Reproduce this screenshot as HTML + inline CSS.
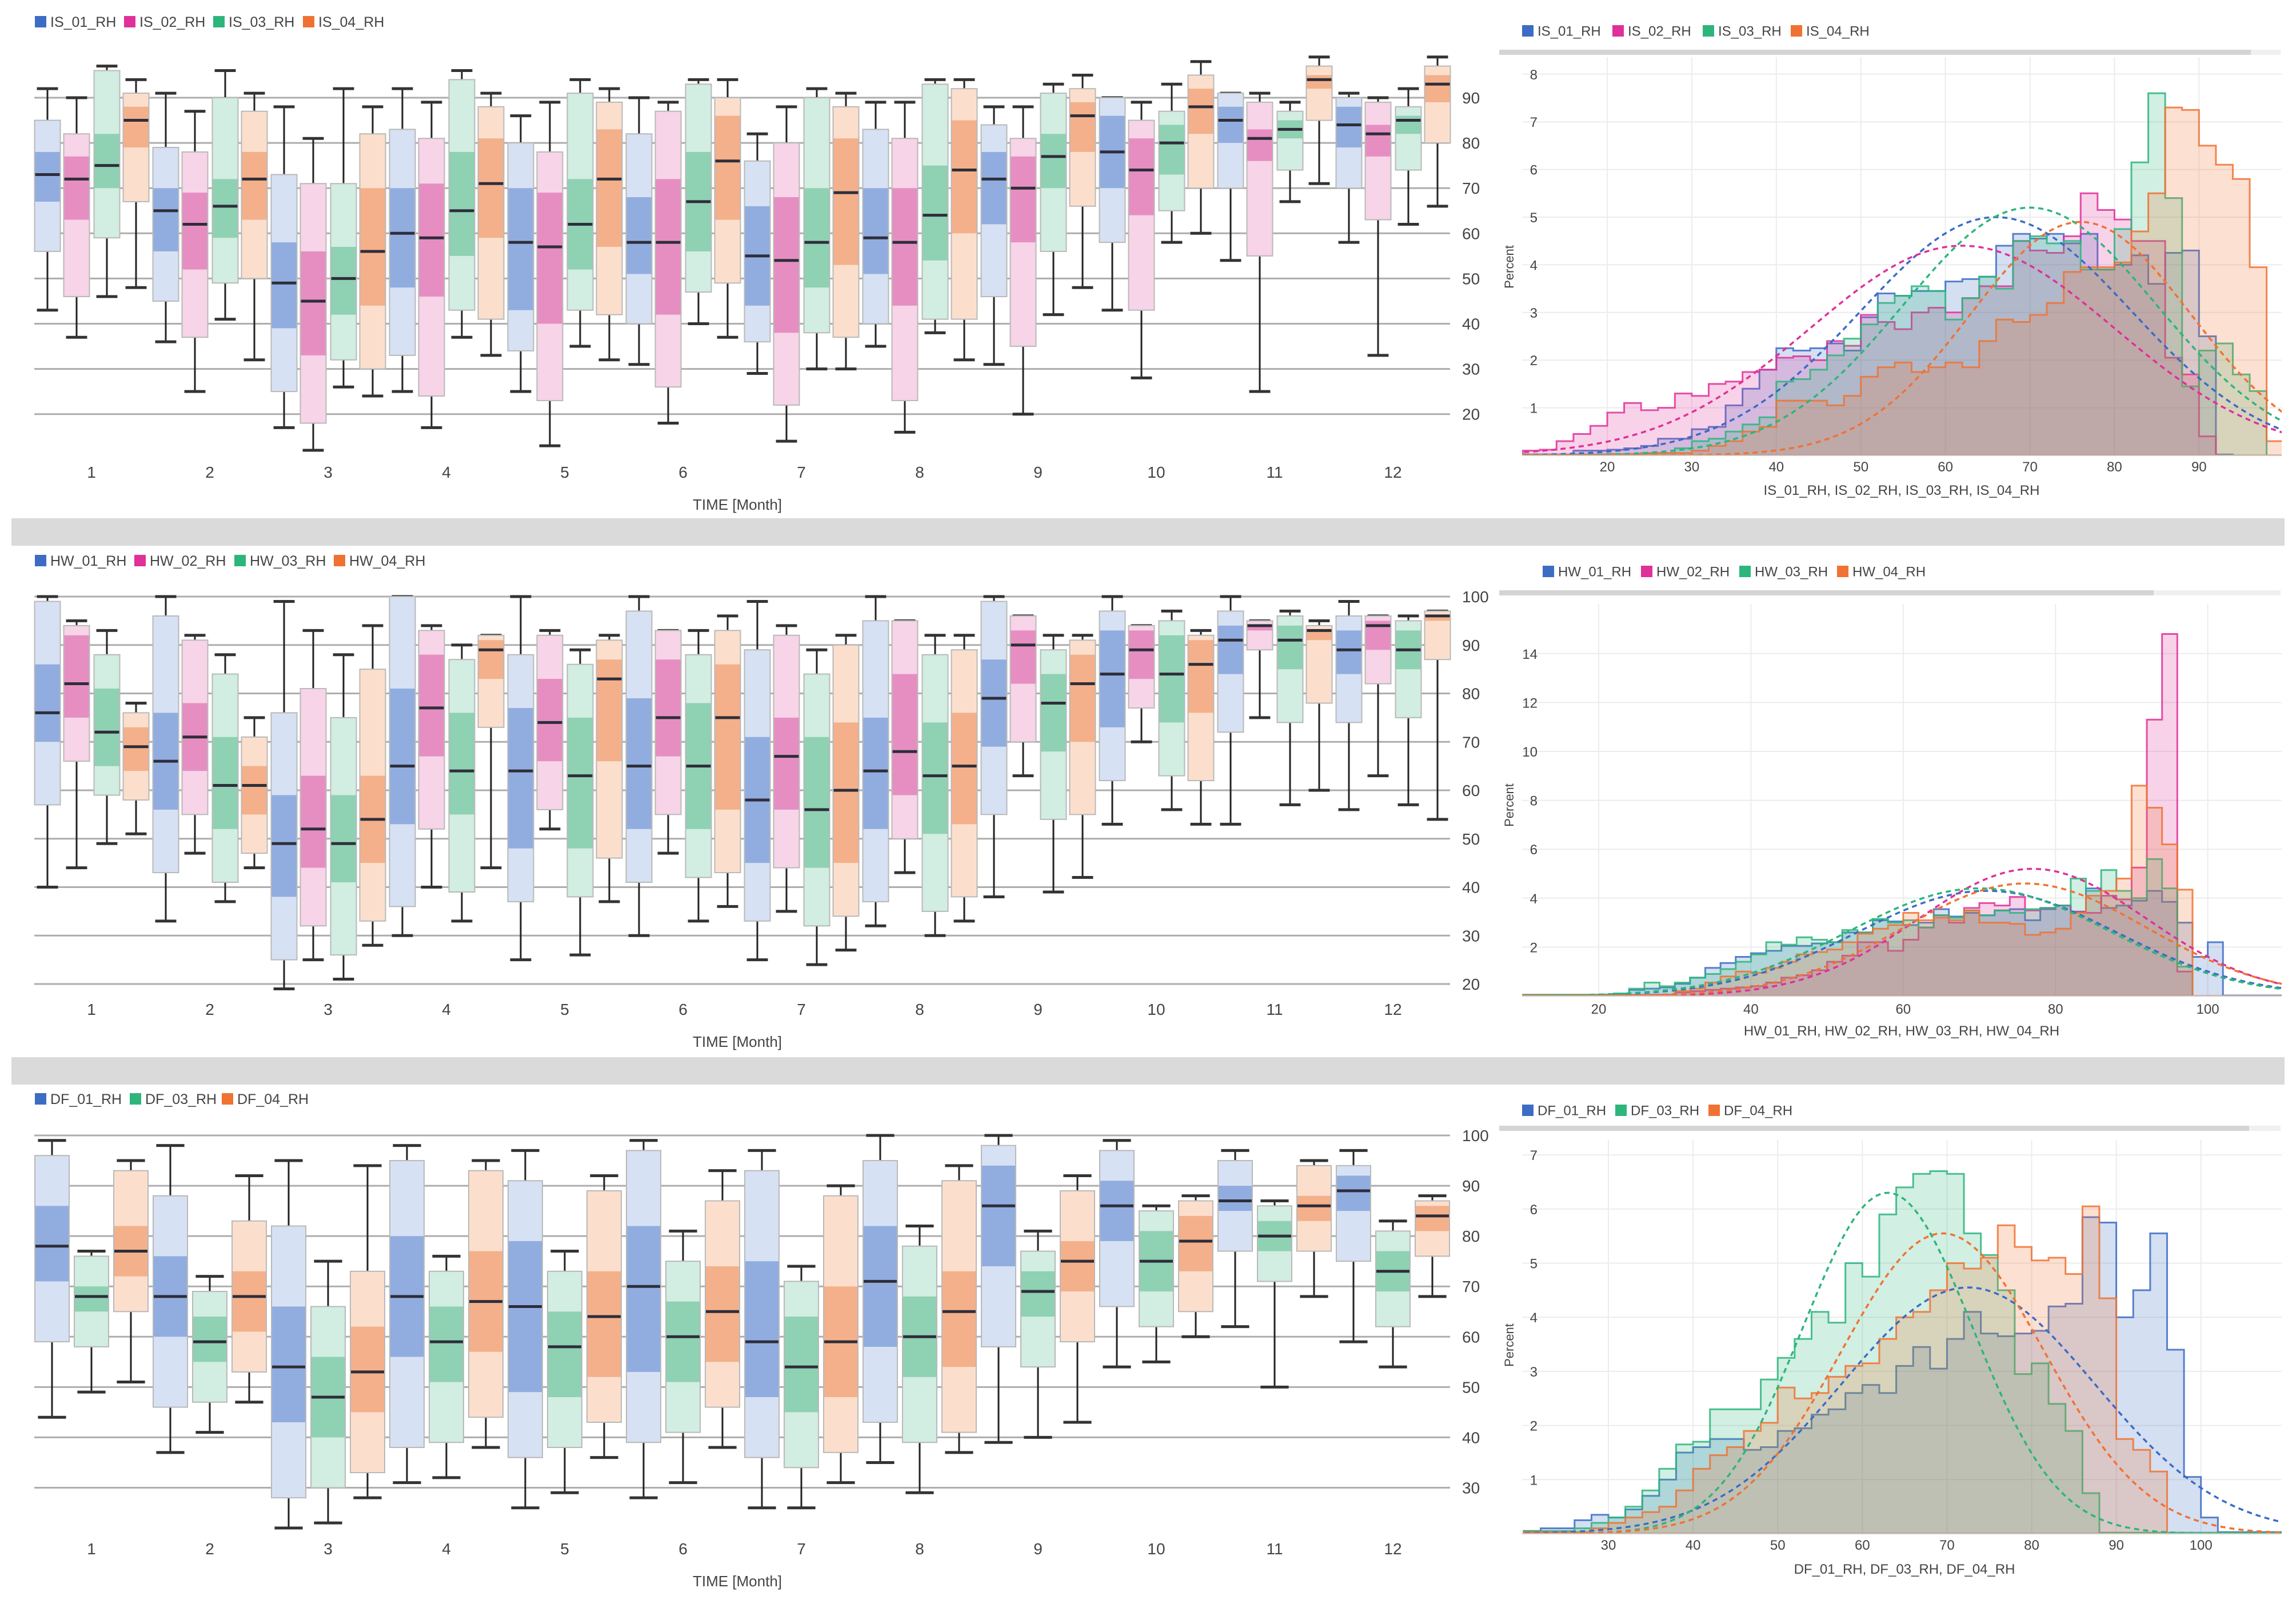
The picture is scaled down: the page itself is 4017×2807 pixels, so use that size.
<!DOCTYPE html>
<html><head><meta charset="utf-8"><style>
html,body{margin:0;padding:0;background:#fff;}
svg{display:block;font-family:"Liberation Sans",sans-serif;}
</style></head><body>
<svg id="c" xmlns="http://www.w3.org/2000/svg" width="4017" height="2807" viewBox="0 0 4017 2807">
<rect x="0" y="0" width="4017" height="2807" fill="#fff"/>
<rect x="20" y="907" width="3977" height="48" fill="#dadada"/>
<rect x="20" y="1850" width="3977" height="48" fill="#dadada"/>
</svg>
<script>
// ---------- box plot data: [min, boxLo, innerLo, median, innerHi, boxHi, max] per month ----------
const months = [1,2,3,4,5,6,7,8,9,10,11,12];
const is01Box = [[43,56,67,73,78,85,92],[36,45,56,65,70,79,91],[17,25,39,49,58,73,88],[25,33,48,60,70,83,92],[25,34,43,58,70,80,86],[31,40,51,58,68,82,90],[29,36,44,55,66,76,82],[35,40,51,59,70,83,89],[31,46,62,72,78,84,88],[43,58,70,78,86,90,90],[54,70,80,85,88,91,91],[58,70,79,84,88,90,91]];
const is02Box = [[37,46,63,72,77,82,90],[25,37,52,62,69,78,87],[12,18,33,45,56,71,81],[17,24,46,59,71,81,89],[13,23,40,57,69,78,89],[18,26,42,58,72,87,89],[14,22,38,54,68,80,88],[16,23,44,58,70,81,89],[20,35,58,70,77,81,88],[28,43,64,74,81,85,89],[25,55,76,81,83,89,91],[33,63,77,82,84,89,90]];
const is03Box = [[46,59,70,75,82,96,97],[41,49,59,66,72,90,96],[26,32,42,50,57,71,92],[37,43,55,65,78,94,96],[35,43,52,62,72,91,94],[40,47,56,67,78,93,94],[30,38,48,58,70,90,92],[38,41,54,64,75,93,94],[42,56,70,77,82,91,93],[58,65,73,80,84,87,93],[67,74,81,83,85,87,89],[62,74,82,85,86,88,92]];
const is04Box = [[48,67,79,85,88,91,94],[32,50,63,72,78,87,91],[24,30,44,56,70,82,88],[33,41,59,71,81,88,91],[32,42,57,72,83,89,92],[37,49,63,76,86,90,94],[30,37,53,69,81,88,91],[32,41,60,74,85,92,94],[48,66,78,86,89,92,95],[60,70,82,88,92,95,98],[71,85,92,94,95,97,99],[66,80,89,93,95,97,99]];
const hw01Box = [[40,57,70,76,86,99,100],[33,43,56,66,76,96,100],[19,25,38,49,59,76,99],[30,36,53,65,81,100,100],[25,37,48,64,77,88,100],[30,41,52,65,79,97,100],[25,33,45,58,71,89,99],[32,37,52,64,75,95,100],[38,55,69,79,87,99,100],[53,62,73,84,93,97,100],[53,72,84,91,94,97,100],[56,74,84,89,93,96,99]];
const hw02Box = [[44,66,75,82,92,94,95],[47,55,64,71,78,91,92],[25,32,44,52,63,81,93],[40,52,67,77,88,93,94],[52,56,66,74,83,92,93],[47,55,67,75,87,93,93],[35,44,56,67,75,92,94],[43,50,59,68,84,95,95],[63,70,82,90,93,96,96],[70,77,83,89,93,94,94],[75,89,93,94,94,95,95],[63,82,89,94,95,96,96]];
const hw03Box = [[49,59,65,72,81,88,93],[37,41,52,61,71,84,88],[21,26,41,49,59,75,88],[33,39,55,64,76,87,90],[26,38,48,63,75,86,89],[33,42,52,65,78,88,93],[24,32,44,56,71,84,89],[30,35,51,63,74,88,92],[39,54,68,78,84,89,92],[56,63,74,84,92,95,97],[57,74,85,91,94,96,97],[57,75,85,89,93,95,96]];
const hw04Box = [[51,58,64,69,73,76,78],[44,47,55,61,65,71,75],[28,33,45,54,63,85,94],[44,73,83,89,91,92,92],[37,46,66,83,87,91,92],[36,43,56,75,86,93,96],[27,34,45,60,74,90,92],[33,38,53,65,76,89,92],[42,55,70,82,88,91,92],[53,62,76,86,91,92,93],[60,78,91,93,93,94,95],[54,87,95,96,96,97,97]];
const df01Box = [[44,59,71,78,86,96,99],[37,46,60,68,76,88,98],[22,28,43,54,66,82,95],[31,38,56,68,80,95,98],[26,36,49,66,79,91,97],[28,39,53,70,82,97,99],[26,36,48,59,75,93,97],[35,43,58,71,82,95,100],[39,58,74,86,94,98,100],[54,66,79,86,91,97,99],[62,77,85,87,90,95,97],[59,75,85,89,92,94,97]];
const df03Box = [[49,58,65,68,70,76,77],[41,47,55,59,64,69,72],[23,30,40,48,56,66,75],[32,39,51,59,66,73,76],[29,38,48,58,65,73,77],[31,41,51,60,67,75,81],[26,34,45,54,64,71,74],[29,39,52,60,68,78,82],[40,54,64,69,73,77,81],[55,62,69,75,81,85,86],[50,71,77,80,83,86,87],[54,62,69,73,77,81,83]];
const df04Box = [[51,65,72,77,82,93,95],[47,53,61,68,73,83,92],[28,33,45,53,62,73,94],[38,44,57,67,77,93,95],[36,43,52,64,73,89,92],[38,46,55,65,74,87,93],[31,37,48,59,70,88,90],[37,41,54,65,73,91,94],[43,59,69,75,79,89,92],[60,65,73,79,84,87,88],[68,77,83,86,88,94,95],[68,76,81,84,86,87,88]];
const isBoxTicks = [20,30,40,50,60,70,80,90];
const hwBoxTicks = [20,30,40,50,60,70,80,90,100];
const dfBoxTicks = [30,40,50,60,70,80,90,100];

// ---------- histogram data (percent per 2-unit bin) ----------
const isHistStart = 10;
const is01Hist = [0.02,0.02,0.02,0.1,0.1,0.12,0.15,0.2,0.35,0.35,0.55,0.6,1.05,1.4,1.8,2.25,2.2,2.25,2.35,2.2,2.9,3.4,3.35,3.45,3.45,3.65,3.7,3.75,4.4,4.65,4.55,4.65,4.45,4.65,3.9,4.0,4.2,3.6,4.25,4.3,2.5,0.02,0,0,0];
const is02Hist = [0.1,0.12,0.3,0.45,0.62,0.9,1.1,0.95,1.0,1.3,1.25,1.5,1.55,1.75,1.8,2.05,2.08,2.0,2.4,2.3,2.95,2.8,2.65,3.0,3.1,3.0,3.3,3.55,3.55,4.5,4.3,4.25,4.6,5.5,5.15,4.95,4.5,4.5,2.05,1.7,0.4,0,0,0,0];
const is03Hist = [0.02,0.02,0.02,0.02,0.02,0.02,0.02,0.05,0.05,0.15,0.3,0.35,0.5,0.65,0.8,1.55,1.6,1.8,2.1,2.45,2.75,3.2,3.35,3.55,3.45,2.85,3.3,3.75,3.5,4.5,4.6,4.45,4.5,3.9,3.9,4.75,6.15,7.6,5.4,1.45,2.2,2.35,1.7,1.35,0];
const is04Hist = [0.02,0.02,0.02,0.02,0.02,0.03,0.03,0.04,0.05,0.05,0.1,0.2,0.3,0.5,0.6,1.15,1.15,1.15,1.05,1.25,1.65,1.85,1.95,1.75,1.85,1.95,1.85,2.4,2.85,2.8,2.95,3.2,3.85,3.95,3.95,4.05,4.7,5.5,7.3,7.25,6.5,6.1,5.8,3.95,0.3];
const isFitMean = [66,62,70,76];
const isFitSd = [16,18,15,13];
const isFitPeak = [5.0,4.4,5.2,4.9];
const isXTicks = [20,30,40,50,60,70,80,90];
const isYTicks = [1,2,3,4,5,6,7,8];

const hwHistStart = 10;
const hw01Hist = [0.05,0.05,0.05,0.05,0.05,0.05,0.1,0.25,0.3,0.35,0.5,0.75,1.15,1.35,1.6,1.75,1.85,2.05,2.05,2.15,2.2,2.6,2.6,3.1,3.05,2.9,3.0,3.55,3.25,3.4,3.3,3.5,3.55,3.1,3.55,3.7,3.45,4.4,3.6,3.7,3.9,4.3,3.85,3.0,1.6,2.2,0.02,0.02,0.02,0.02];
const hw02Hist = [0.03,0.03,0.03,0.03,0.03,0.03,0.03,0.04,0.05,0.05,0.15,0.2,0.25,0.3,0.35,0.4,0.55,0.75,0.85,1.05,1.4,1.65,2.2,2.2,1.85,2.3,2.8,3.3,3.0,3.6,3.8,3.7,4.05,3.5,3.6,3.7,3.45,3.4,4.1,3.95,5.25,11.3,14.8,1.0,0,0,0,0,0,0];
const hw03Hist = [0.05,0.05,0.05,0.05,0.05,0.06,0.1,0.3,0.55,0.4,0.55,0.75,0.9,1.1,1.4,1.7,2.2,2.1,2.4,2.3,2.2,2.7,2.6,3.15,3.0,3.1,2.8,3.3,3.2,3.5,3.3,3.5,3.4,3.55,3.6,3.7,4.8,4.3,5.15,4.3,4.0,5.6,4.4,1.2,0,0,0,0,0,0];
const hw04Hist = [0.03,0.03,0.03,0.03,0.03,0.03,0.03,0.03,0.04,0.05,0.2,0.3,0.55,0.8,1.0,0.95,1.15,1.4,1.7,1.8,1.9,2.2,2.55,2.75,2.9,3.4,3.1,3.2,3.1,3.5,3.0,3.0,2.95,2.5,2.6,2.75,3.4,4.1,4.3,4.8,8.6,7.7,6.2,4.35,0,0,0,0,0,0];
const hwFitMean = [71,77,70,76];
const hwFitSd = [17,15,17,16];
const hwFitPeak = [4.3,5.2,4.4,4.6];
const hwXTicks = [20,40,60,80,100];
const hwYTicks = [2,4,6,8,10,12,14];

const dfHistStart = 20;
const df01Hist = [0.05,0.1,0.1,0.25,0.35,0.3,0.45,0.7,1.0,1.5,1.6,1.75,1.75,1.55,1.6,1.9,1.95,2.2,2.3,2.6,2.75,2.6,3.1,3.45,3.05,3.6,4.1,3.7,3.65,3.7,3.75,4.2,4.25,5.85,5.75,4.0,4.5,5.55,3.4,1.05,0.3,0.03,0.03,0.03,0.03];
const df03Hist = [0.05,0.05,0.05,0.1,0.2,0.3,0.5,0.8,1.2,1.65,1.7,2.3,2.3,2.3,2.85,3.25,3.6,4.1,3.9,5.0,4.75,5.9,6.4,6.65,6.7,6.65,5.55,5.15,4.5,2.95,3.15,2.4,1.9,0.75,0.02,0.02,0.02,0.02,0.02,0.02,0.02,0.02,0.02,0.02,0.02];
const df04Hist = [0.03,0.03,0.03,0.03,0.1,0.2,0.3,0.4,0.5,0.8,1.2,1.45,1.6,1.9,2.05,2.7,2.5,2.6,2.9,3.1,3.15,3.6,4.0,4.1,4.5,5.0,4.9,5.1,5.7,5.3,5.05,5.1,4.8,6.05,4.35,1.75,1.55,1.15,0,0,0,0,0,0,0];
const dfFitMean = [72.5,63,69.5];
const dfFitSd = [15,10,12];
const dfFitPeak = [4.55,6.3,5.55];
const dfXTicks = [30,40,50,60,70,80,90,100];
const dfYTicks = [1,2,3,4,5,6,7];

// ---------- styling ----------
const COL = {blue:'#3c6cc4', pink:'#e0309a', green:'#2db57c', orange:'#f07232'};
const LIGHT = {blue:'#d7e1f4', pink:'#f7d4e7', green:'#d2ede1', orange:'#fbdfcc'};
const MID = {blue:'#91ade0', pink:'#e68ec2', green:'#8fd1b3', orange:'#f4b08a'};
const NS = 'http://www.w3.org/2000/svg';
const svg = document.getElementById('c');

function mk(tag, attrs, parent) {
  const e = document.createElementNS(NS, tag);
  for (const k in attrs) e.setAttribute(k, attrs[k]);
  (parent || svg).appendChild(e);
  return e;
}

function legend(items, x0, spacing, y, sq, fs, prefix) {
  const g = mk('g', {});
  
  
  items.forEach((it, i) => {
    const x = x0 + spacing[i];
    const gi = mk('g', {}, g);
    
    
    mk('rect', {x: x, y: y - sq / 2, width: sq, height: sq, fill: COL[it.c]}, gi);
    const t = mk('text', {x: x + sq + 7, y: y + fs * 0.36, 'font-size': fs, fill: '#444'}, gi);
    t.textContent = it.name;
  });
}

function boxPanel(cfg) {
  const g = mk('g', {});
  
  
  const yOf = v => cfg.y0 + (cfg.v0 - v) * cfg.pxPerUnit;
  const xOf = m => cfg.xm0 + (m - 1) * cfg.mStep;
  cfg.ticks.forEach(t => {
    const gl = mk('line', {x1: 60, x2: 2537, y1: yOf(t), y2: yOf(t), stroke: '#adadad', 'stroke-width': 3}, g);
    
    
    const tl = mk('text', {x: 2558, y: yOf(t) + 10, 'font-size': 28, fill: '#444'}, g);
    
    
    tl.textContent = t;
  });
  months.forEach(m => {
    const ml = mk('text', {x: xOf(m), y: cfg.labelY, 'font-size': 28, fill: '#444', 'text-anchor': 'middle'}, g);
    
    
    ml.textContent = m;
  });
  const tt = mk('text', {x: 1290, y: cfg.titleY, 'font-size': 26, fill: '#444', 'text-anchor': 'middle'}, g);
  
  
  tt.textContent = 'TIME [Month]';
  const n = cfg.series.length;
  cfg.series.forEach((s, si) => {
    s.data.forEach((d, mi) => {
      const cx = xOf(months[mi]) + cfg.offsets[si];
      const w = cfg.bw, cap = cfg.bw * 0.82;
      const bg = mk('g', {}, g);
      
      
      mk('line', {x1: cx, x2: cx, y1: yOf(d[0]), y2: yOf(d[6]), stroke: '#222', 'stroke-width': 3}, bg);
      mk('line', {x1: cx - cap / 2, x2: cx + cap / 2, y1: yOf(d[0]), y2: yOf(d[0]), stroke: '#333', 'stroke-width': 5}, bg);
      mk('line', {x1: cx - cap / 2, x2: cx + cap / 2, y1: yOf(d[6]), y2: yOf(d[6]), stroke: '#333', 'stroke-width': 5}, bg);
      mk('rect', {x: cx - w / 2, y: yOf(d[5]), width: w, height: yOf(d[1]) - yOf(d[5]), fill: LIGHT[s.c], stroke: '#b9b9b9', 'stroke-width': 2}, bg);
      mk('rect', {x: cx - w / 2 + 1, y: yOf(d[4]), width: w - 2, height: yOf(d[2]) - yOf(d[4]), fill: MID[s.c]}, bg);
      mk('line', {x1: cx - w / 2 + 1, x2: cx + w / 2 - 1, y1: yOf(d[3]), y2: yOf(d[3]), stroke: '#2e2e3a', 'stroke-width': 5}, bg);
    });
  });
}

function histPanel(cfg) {
  const g = mk('g', {});
  
  
  const xOf = v => cfg.xRef + (v - cfg.vRef) * cfg.xPer;
  const yOf = p => cfg.y0 - p * cfg.yPer;
  const L = 2663, R = 3992;
  const bar = mk('rect', {x: 2623, y: cfg.barY, width: cfg.barW, height: 9, fill: '#d4d4d4'}, g);
  
  
  mk('rect', {x: 2623 + cfg.barW, y: cfg.barY, width: 3990 - 2623 - cfg.barW, height: 9, fill: '#f0f0f0'}, g);
  cfg.xTicks.forEach(t => {
    mk('line', {x1: xOf(t), x2: xOf(t), y1: cfg.top, y2: cfg.y0, stroke: '#ececec', 'stroke-width': 2}, g);
    const tl = mk('text', {x: xOf(t), y: cfg.tickY, 'font-size': 24, fill: '#444', 'text-anchor': 'middle'}, g);
    
    
    tl.textContent = t;
  });
  cfg.yTicks.forEach(t => {
    mk('line', {x1: L, x2: R, y1: yOf(t), y2: yOf(t), stroke: '#ececec', 'stroke-width': 2}, g);
    const tl = mk('text', {x: 2690, y: yOf(t) + 9, 'font-size': 24, fill: '#444', 'text-anchor': 'end'}, g);
    
    
    tl.textContent = t;
  });
  const yl = mk('text', {x: 2648, y: cfg.pctY, 'font-size': 22, fill: '#444', 'text-anchor': 'middle', transform: 'rotate(-90 2648 ' + cfg.pctY + ')'}, g);
  
  
  yl.textContent = 'Percent';
  const xt = mk('text', {x: cfg.titleX, y: cfg.titleY, 'font-size': 24, fill: '#444', 'text-anchor': 'middle'}, g);
  
  
  xt.textContent = cfg.title;
  const clipId = cfg.name + '-clip';
  const cp = mk('clipPath', {id: clipId}, g);
  mk('rect', {x: L, y: cfg.top - 20, width: R - L, height: cfg.y0 - cfg.top + 20}, cp);
  const pg = mk('g', {'clip-path': 'url(#' + clipId + ')'}, g);
  cfg.series.forEach(s => {
    let d = 'M' + xOf(cfg.start) + ' ' + yOf(0);
    s.data.forEach((v, i) => {
      const a = cfg.start + i * 2, b = a + 2;
      d += ' L' + xOf(a) + ' ' + yOf(v) + ' L' + xOf(b) + ' ' + yOf(v);
    });
    d += ' L' + xOf(cfg.start + s.data.length * 2) + ' ' + yOf(0) + ' Z';
    const p = mk('path', {d: d, fill: COL[s.c], 'fill-opacity': 0.22, stroke: COL[s.c], 'stroke-width': 3, 'stroke-opacity': 0.85}, pg);
    
    
  });
  cfg.series.forEach((s, i) => {
    let d = '';
    const vmin = cfg.vmin, vmax = cfg.vmax;
    for (let k = 0; k <= 200; k++) {
      const v = vmin + (vmax - vmin) * k / 200;
      const p = cfg.fitPeak[i] * Math.exp(-Math.pow(v - cfg.fitMean[i], 2) / (2 * cfg.fitSd[i] * cfg.fitSd[i]));
      d += (k ? ' L' : 'M') + xOf(v).toFixed(1) + ' ' + yOf(p).toFixed(1);
    }
    const f = mk('path', {d: d, fill: 'none', stroke: COL[s.c], 'stroke-width': 3.5, 'stroke-dasharray': '9 7'}, pg);
    
    
  });
  mk('line', {x1: L, x2: R, y1: cfg.y0, y2: cfg.y0, stroke: '#c8c8c8', 'stroke-width': 2}, g);
}

// ---------- row 1 ----------
const isSeries = [{name:'IS_01_RH',c:'blue',data:is01Box},{name:'IS_02_RH',c:'pink',data:is02Box},{name:'IS_03_RH',c:'green',data:is03Box},{name:'IS_04_RH',c:'orange',data:is04Box}];
legend(isSeries, 61, [0,156,312,469], 38, 20, 25, 'is-box');
boxPanel({name:'is-boxplot', series:isSeries, ticks:isBoxTicks, v0:90, y0:171, pxPerUnit:7.91, xm0:160, mStep:207, offsets:[-77,-26,27,78], bw:45, labelY:836, titleY:892});
const isH = [{name:'IS_01_RH',c:'blue',data:is01Hist},{name:'IS_02_RH',c:'pink',data:is02Hist},{name:'IS_03_RH',c:'green',data:is03Hist},{name:'IS_04_RH',c:'orange',data:is04Hist}];
legend(isH, 2663, [0,158,316,470], 54, 20, 24, 'is-hist');
histPanel({name:'is-histogram', series:isH, start:isHistStart, xRef:2812, vRef:20, xPer:14.79, y0:797, yPer:83.4, top:100, barY:87, barW:1315, xTicks:isXTicks, yTicks:isYTicks, tickY:825, pctY:467, titleX:3327, titleY:866, title:'IS_01_RH, IS_02_RH, IS_03_RH, IS_04_RH', fitMean:isFitMean, fitSd:isFitSd, fitPeak:isFitPeak, vmin:8, vmax:102});

// ---------- row 2 ----------
const hwSeries = [{name:'HW_01_RH',c:'blue',data:hw01Box},{name:'HW_02_RH',c:'pink',data:hw02Box},{name:'HW_03_RH',c:'green',data:hw03Box},{name:'HW_04_RH',c:'orange',data:hw04Box}];
legend(hwSeries, 61, [0,174,349,523], 981, 20, 25, 'hw-box');
boxPanel({name:'hw-boxplot', series:hwSeries, ticks:hwBoxTicks, v0:100, y0:1044, pxPerUnit:8.475, xm0:160, mStep:207, offsets:[-77,-26,27,78], bw:45, labelY:1776, titleY:1832});
const hwH = [{name:'HW_01_RH',c:'blue',data:hw01Hist},{name:'HW_02_RH',c:'pink',data:hw02Hist},{name:'HW_03_RH',c:'green',data:hw03Hist},{name:'HW_04_RH',c:'orange',data:hw04Hist}];
legend(hwH, 2699, [0,172,344,515], 1000, 20, 24, 'hw-hist');
histPanel({name:'hw-histogram', series:hwH, start:hwHistStart, xRef:2797, vRef:20, xPer:13.32, y0:1743, yPer:42.8, top:1057, barY:1033, barW:1145, xTicks:hwXTicks, yTicks:hwYTicks, tickY:1774, pctY:1409, titleX:3327, titleY:1812, title:'HW_01_RH, HW_02_RH, HW_03_RH, HW_04_RH', fitMean:hwFitMean, fitSd:hwFitSd, fitPeak:hwFitPeak, vmin:8, vmax:112});

// ---------- row 3 ----------
const dfSeries = [{name:'DF_01_RH',c:'blue',data:df01Box},{name:'DF_03_RH',c:'green',data:df03Box},{name:'DF_04_RH',c:'orange',data:df04Box}];
legend(dfSeries, 61, [0,166,327], 1923, 20, 25, 'df-box');
boxPanel({name:'df-boxplot', series:dfSeries, ticks:dfBoxTicks, v0:100, y0:1987, pxPerUnit:8.807, xm0:160, mStep:207, offsets:[-69,0,69], bw:60, labelY:2720, titleY:2776});
const dfH = [{name:'DF_01_RH',c:'blue',data:df01Hist},{name:'DF_03_RH',c:'green',data:df03Hist},{name:'DF_04_RH',c:'orange',data:df04Hist}];
legend(dfH, 2663, [0,163,326], 1943, 20, 24, 'df-hist');
histPanel({name:'df-histogram', series:dfH, start:dfHistStart, xRef:2814, vRef:30, xPer:14.81, y0:2684, yPer:94.7, top:1995, barY:1970, barW:1312, xTicks:dfXTicks, yTicks:dfYTicks, tickY:2712, pctY:2354, titleX:3332, titleY:2754, title:'DF_01_RH, DF_03_RH, DF_04_RH', fitMean:dfFitMean, fitSd:dfFitSd, fitPeak:dfFitPeak, vmin:18, vmax:112});
</script>
</body></html>
